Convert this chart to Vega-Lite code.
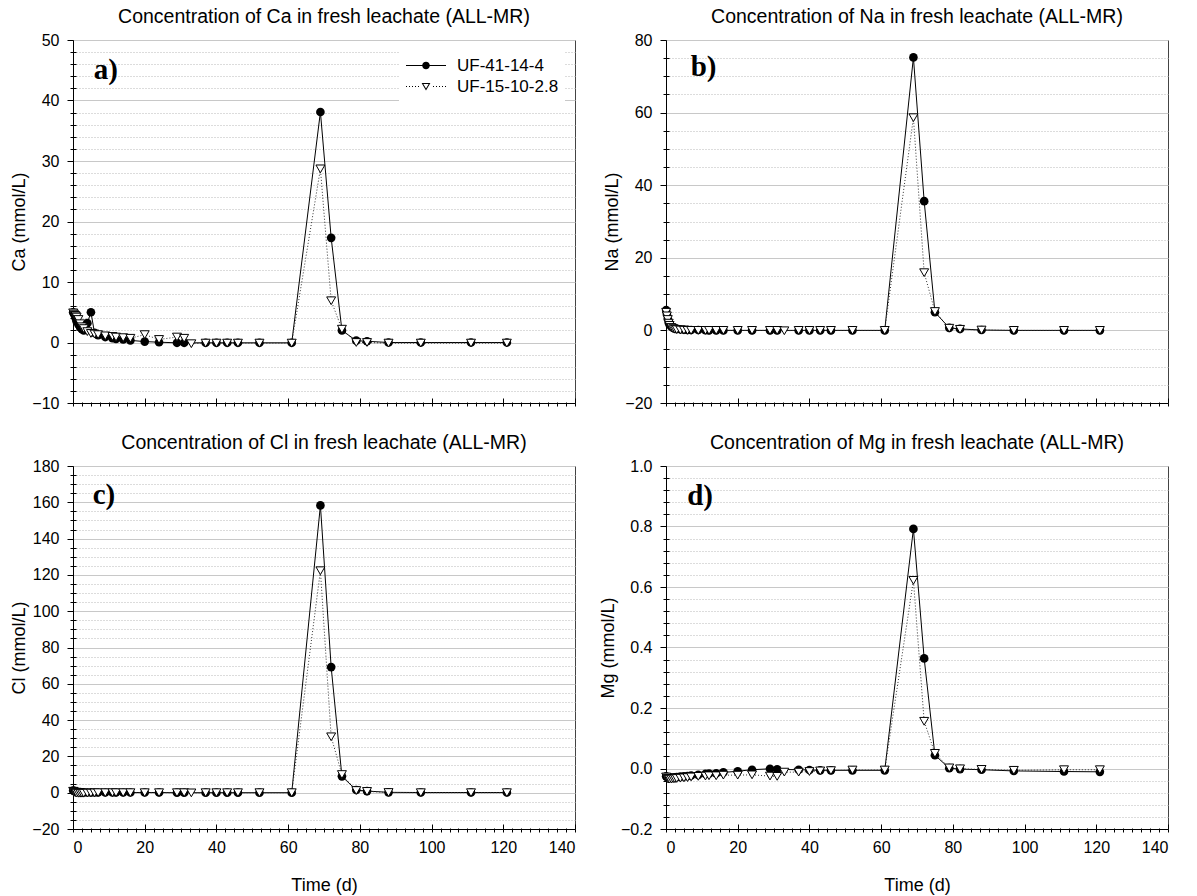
{
  "$schema": "https://vega.github.io/schema/vega-lite/v6.json",
  "padding": {"left": 10, "top": 6, "right": 5, "bottom": 2},
  "bounds": "flush",
  "columns": 2,
  "spacing": {"row": 63, "column": 91},
  "datasets": {
    "ca": [
      {"s":"UF-41-14-4","t":0.05,"v":5.0},{"s":"UF-41-14-4","t":0.25,"v":4.8},{"s":"UF-41-14-4","t":0.5,"v":4.5},{"s":"UF-41-14-4","t":0.75,"v":4.0},{"s":"UF-41-14-4","t":1,"v":3.5},{"s":"UF-41-14-4","t":1.5,"v":3.0},{"s":"UF-41-14-4","t":2,"v":2.5},{"s":"UF-41-14-4","t":2.5,"v":2.2},{"s":"UF-41-14-4","t":3,"v":2.0},{"s":"UF-41-14-4","t":4,"v":3.2},{"s":"UF-41-14-4","t":5,"v":5.0},{"s":"UF-41-14-4","t":6,"v":1.6},{"s":"UF-41-14-4","t":7,"v":1.2},{"s":"UF-41-14-4","t":9,"v":0.9},{"s":"UF-41-14-4","t":11,"v":0.7},{"s":"UF-41-14-4","t":12,"v":0.6},{"s":"UF-41-14-4","t":14,"v":0.5},{"s":"UF-41-14-4","t":16,"v":0.35},{"s":"UF-41-14-4","t":20,"v":0.15},{"s":"UF-41-14-4","t":24,"v":0.05},{"s":"UF-41-14-4","t":29,"v":-0.05},{"s":"UF-41-14-4","t":31,"v":-0.05},{"s":"UF-41-14-4","t":37,"v":-0.05},{"s":"UF-41-14-4","t":40,"v":-0.05},{"s":"UF-41-14-4","t":43,"v":-0.05},{"s":"UF-41-14-4","t":46,"v":-0.05},{"s":"UF-41-14-4","t":52,"v":-0.05},{"s":"UF-41-14-4","t":61,"v":-0.05},{"s":"UF-41-14-4","t":69,"v":38.1},{"s":"UF-41-14-4","t":72,"v":17.3},{"s":"UF-41-14-4","t":75,"v":2.0},{"s":"UF-41-14-4","t":79,"v":0.3},{"s":"UF-41-14-4","t":82,"v":0.2},{"s":"UF-41-14-4","t":88,"v":0.0},{"s":"UF-41-14-4","t":97,"v":0.0},{"s":"UF-41-14-4","t":111,"v":0.0},{"s":"UF-41-14-4","t":121,"v":0.0},
      {"s":"UF-15-10-2.8","t":0.05,"v":4.9},{"s":"UF-15-10-2.8","t":0.25,"v":4.7},{"s":"UF-15-10-2.8","t":0.5,"v":4.5},{"s":"UF-15-10-2.8","t":0.75,"v":4.4},{"s":"UF-15-10-2.8","t":1,"v":4.2},{"s":"UF-15-10-2.8","t":1.5,"v":3.8},{"s":"UF-15-10-2.8","t":2,"v":3.1},{"s":"UF-15-10-2.8","t":2.5,"v":2.6},{"s":"UF-15-10-2.8","t":3,"v":2.3},{"s":"UF-15-10-2.8","t":4,"v":1.8},{"s":"UF-15-10-2.8","t":5,"v":1.5},{"s":"UF-15-10-2.8","t":6,"v":1.4},{"s":"UF-15-10-2.8","t":7,"v":1.3},{"s":"UF-15-10-2.8","t":9,"v":1.1},{"s":"UF-15-10-2.8","t":11,"v":1.0},{"s":"UF-15-10-2.8","t":12,"v":0.9},{"s":"UF-15-10-2.8","t":14,"v":0.8},{"s":"UF-15-10-2.8","t":16,"v":0.7},{"s":"UF-15-10-2.8","t":20,"v":1.3},{"s":"UF-15-10-2.8","t":24,"v":0.5},{"s":"UF-15-10-2.8","t":29,"v":0.9},{"s":"UF-15-10-2.8","t":31,"v":0.7},{"s":"UF-15-10-2.8","t":33,"v":-0.2},{"s":"UF-15-10-2.8","t":37,"v":-0.1},{"s":"UF-15-10-2.8","t":40,"v":-0.1},{"s":"UF-15-10-2.8","t":43,"v":-0.1},{"s":"UF-15-10-2.8","t":46,"v":-0.1},{"s":"UF-15-10-2.8","t":52,"v":-0.1},{"s":"UF-15-10-2.8","t":61,"v":-0.1},{"s":"UF-15-10-2.8","t":69,"v":28.7},{"s":"UF-15-10-2.8","t":72,"v":6.9},{"s":"UF-15-10-2.8","t":75,"v":2.2},{"s":"UF-15-10-2.8","t":79,"v":0.0},{"s":"UF-15-10-2.8","t":82,"v":0.0},{"s":"UF-15-10-2.8","t":88,"v":-0.1},{"s":"UF-15-10-2.8","t":97,"v":-0.1},{"s":"UF-15-10-2.8","t":111,"v":-0.1},{"s":"UF-15-10-2.8","t":121,"v":-0.1}
    ],
    "na": [
      {"s":"UF-41-14-4","t":0.05,"v":5.6},{"s":"UF-41-14-4","t":0.25,"v":4.5},{"s":"UF-41-14-4","t":0.5,"v":3.2},{"s":"UF-41-14-4","t":0.75,"v":2.2},{"s":"UF-41-14-4","t":1,"v":1.6},{"s":"UF-41-14-4","t":1.5,"v":1.0},{"s":"UF-41-14-4","t":2,"v":0.7},{"s":"UF-41-14-4","t":2.5,"v":0.5},{"s":"UF-41-14-4","t":3,"v":0.4},{"s":"UF-41-14-4","t":4,"v":0.3},{"s":"UF-41-14-4","t":5,"v":0.2},{"s":"UF-41-14-4","t":6,"v":0.15},{"s":"UF-41-14-4","t":7,"v":0.1},{"s":"UF-41-14-4","t":9,"v":0.1},{"s":"UF-41-14-4","t":11,"v":0.05},{"s":"UF-41-14-4","t":12,"v":0},{"s":"UF-41-14-4","t":14,"v":0},{"s":"UF-41-14-4","t":16,"v":0},{"s":"UF-41-14-4","t":20,"v":0},{"s":"UF-41-14-4","t":24,"v":0},{"s":"UF-41-14-4","t":29,"v":0},{"s":"UF-41-14-4","t":31,"v":0},{"s":"UF-41-14-4","t":37,"v":0},{"s":"UF-41-14-4","t":40,"v":0},{"s":"UF-41-14-4","t":43,"v":0},{"s":"UF-41-14-4","t":46,"v":0},{"s":"UF-41-14-4","t":52,"v":0},{"s":"UF-41-14-4","t":61,"v":0},{"s":"UF-41-14-4","t":69,"v":75.2},{"s":"UF-41-14-4","t":72,"v":35.6},{"s":"UF-41-14-4","t":75,"v":5.0},{"s":"UF-41-14-4","t":79,"v":0.7},{"s":"UF-41-14-4","t":82,"v":0.4},{"s":"UF-41-14-4","t":88,"v":0.1},{"s":"UF-41-14-4","t":97,"v":0},{"s":"UF-41-14-4","t":111,"v":0},{"s":"UF-41-14-4","t":121,"v":0},
      {"s":"UF-15-10-2.8","t":0.05,"v":5.0},{"s":"UF-15-10-2.8","t":0.25,"v":4.0},{"s":"UF-15-10-2.8","t":0.5,"v":3.0},{"s":"UF-15-10-2.8","t":0.75,"v":2.0},{"s":"UF-15-10-2.8","t":1,"v":1.4},{"s":"UF-15-10-2.8","t":1.5,"v":0.8},{"s":"UF-15-10-2.8","t":2,"v":0.5},{"s":"UF-15-10-2.8","t":2.5,"v":0.3},{"s":"UF-15-10-2.8","t":3,"v":0.2},{"s":"UF-15-10-2.8","t":4,"v":0.1},{"s":"UF-15-10-2.8","t":5,"v":0.05},{"s":"UF-15-10-2.8","t":6,"v":0},{"s":"UF-15-10-2.8","t":7,"v":0},{"s":"UF-15-10-2.8","t":9,"v":0},{"s":"UF-15-10-2.8","t":11,"v":0},{"s":"UF-15-10-2.8","t":12,"v":0},{"s":"UF-15-10-2.8","t":14,"v":0},{"s":"UF-15-10-2.8","t":16,"v":0},{"s":"UF-15-10-2.8","t":20,"v":0},{"s":"UF-15-10-2.8","t":24,"v":0},{"s":"UF-15-10-2.8","t":29,"v":0},{"s":"UF-15-10-2.8","t":31,"v":0},{"s":"UF-15-10-2.8","t":33,"v":-0.1},{"s":"UF-15-10-2.8","t":37,"v":0},{"s":"UF-15-10-2.8","t":40,"v":0},{"s":"UF-15-10-2.8","t":43,"v":0},{"s":"UF-15-10-2.8","t":46,"v":0},{"s":"UF-15-10-2.8","t":52,"v":0},{"s":"UF-15-10-2.8","t":61,"v":0},{"s":"UF-15-10-2.8","t":69,"v":58.6},{"s":"UF-15-10-2.8","t":72,"v":15.9},{"s":"UF-15-10-2.8","t":75,"v":5.2},{"s":"UF-15-10-2.8","t":79,"v":0.6},{"s":"UF-15-10-2.8","t":82,"v":0.3},{"s":"UF-15-10-2.8","t":88,"v":0.1},{"s":"UF-15-10-2.8","t":97,"v":0},{"s":"UF-15-10-2.8","t":111,"v":0},{"s":"UF-15-10-2.8","t":121,"v":0}
    ],
    "cl": [
      {"s":"UF-41-14-4","t":0.05,"v":1.2},{"s":"UF-41-14-4","t":0.25,"v":1.0},{"s":"UF-41-14-4","t":0.5,"v":0.8},{"s":"UF-41-14-4","t":0.75,"v":0.6},{"s":"UF-41-14-4","t":1,"v":0.5},{"s":"UF-41-14-4","t":1.5,"v":0.4},{"s":"UF-41-14-4","t":2,"v":0.3},{"s":"UF-41-14-4","t":2.5,"v":0.2},{"s":"UF-41-14-4","t":3,"v":0.2},{"s":"UF-41-14-4","t":4,"v":0.1},{"s":"UF-41-14-4","t":5,"v":0.1},{"s":"UF-41-14-4","t":6,"v":0.1},{"s":"UF-41-14-4","t":7,"v":0.1},{"s":"UF-41-14-4","t":9,"v":0.1},{"s":"UF-41-14-4","t":11,"v":0.1},{"s":"UF-41-14-4","t":12,"v":0.1},{"s":"UF-41-14-4","t":14,"v":0.1},{"s":"UF-41-14-4","t":16,"v":0.1},{"s":"UF-41-14-4","t":20,"v":0.1},{"s":"UF-41-14-4","t":24,"v":0.1},{"s":"UF-41-14-4","t":29,"v":0},{"s":"UF-41-14-4","t":31,"v":0},{"s":"UF-41-14-4","t":37,"v":0},{"s":"UF-41-14-4","t":40,"v":0},{"s":"UF-41-14-4","t":43,"v":0},{"s":"UF-41-14-4","t":46,"v":0},{"s":"UF-41-14-4","t":52,"v":0},{"s":"UF-41-14-4","t":61,"v":0},{"s":"UF-41-14-4","t":69,"v":158.3},{"s":"UF-41-14-4","t":72,"v":69.2},{"s":"UF-41-14-4","t":75,"v":9.0},{"s":"UF-41-14-4","t":79,"v":1.5},{"s":"UF-41-14-4","t":82,"v":0.9},{"s":"UF-41-14-4","t":88,"v":0.2},{"s":"UF-41-14-4","t":97,"v":0.1},{"s":"UF-41-14-4","t":111,"v":0.1},{"s":"UF-41-14-4","t":121,"v":0.1},
      {"s":"UF-15-10-2.8","t":0.05,"v":0.8},{"s":"UF-15-10-2.8","t":0.25,"v":0.5},{"s":"UF-15-10-2.8","t":0.5,"v":0.2},{"s":"UF-15-10-2.8","t":0.75,"v":0},{"s":"UF-15-10-2.8","t":1,"v":-0.2},{"s":"UF-15-10-2.8","t":1.5,"v":-0.3},{"s":"UF-15-10-2.8","t":2,"v":-0.3},{"s":"UF-15-10-2.8","t":2.5,"v":-0.3},{"s":"UF-15-10-2.8","t":3,"v":-0.3},{"s":"UF-15-10-2.8","t":4,"v":-0.2},{"s":"UF-15-10-2.8","t":5,"v":-0.2},{"s":"UF-15-10-2.8","t":6,"v":-0.1},{"s":"UF-15-10-2.8","t":7,"v":0},{"s":"UF-15-10-2.8","t":9,"v":0},{"s":"UF-15-10-2.8","t":11,"v":0},{"s":"UF-15-10-2.8","t":12,"v":0},{"s":"UF-15-10-2.8","t":14,"v":0},{"s":"UF-15-10-2.8","t":16,"v":0},{"s":"UF-15-10-2.8","t":20,"v":0},{"s":"UF-15-10-2.8","t":24,"v":0},{"s":"UF-15-10-2.8","t":29,"v":0},{"s":"UF-15-10-2.8","t":31,"v":0},{"s":"UF-15-10-2.8","t":33,"v":-0.1},{"s":"UF-15-10-2.8","t":37,"v":0},{"s":"UF-15-10-2.8","t":40,"v":0},{"s":"UF-15-10-2.8","t":43,"v":0},{"s":"UF-15-10-2.8","t":46,"v":0},{"s":"UF-15-10-2.8","t":52,"v":0},{"s":"UF-15-10-2.8","t":61,"v":0},{"s":"UF-15-10-2.8","t":69,"v":122.3},{"s":"UF-15-10-2.8","t":72,"v":30.8},{"s":"UF-15-10-2.8","t":75,"v":10.0},{"s":"UF-15-10-2.8","t":79,"v":1.2},{"s":"UF-15-10-2.8","t":82,"v":0.7},{"s":"UF-15-10-2.8","t":88,"v":0.1},{"s":"UF-15-10-2.8","t":97,"v":0},{"s":"UF-15-10-2.8","t":111,"v":0},{"s":"UF-15-10-2.8","t":121,"v":0}
    ],
    "mg": [
      {"s":"UF-41-14-4","t":0.05,"v":-0.026},{"s":"UF-41-14-4","t":0.25,"v":-0.028},{"s":"UF-41-14-4","t":0.5,"v":-0.029},{"s":"UF-41-14-4","t":0.75,"v":-0.03},{"s":"UF-41-14-4","t":1,"v":-0.03},{"s":"UF-41-14-4","t":1.5,"v":-0.03},{"s":"UF-41-14-4","t":2,"v":-0.03},{"s":"UF-41-14-4","t":2.5,"v":-0.029},{"s":"UF-41-14-4","t":3,"v":-0.028},{"s":"UF-41-14-4","t":4,"v":-0.027},{"s":"UF-41-14-4","t":5,"v":-0.026},{"s":"UF-41-14-4","t":6,"v":-0.025},{"s":"UF-41-14-4","t":7,"v":-0.023},{"s":"UF-41-14-4","t":9,"v":-0.021},{"s":"UF-41-14-4","t":11,"v":-0.018},{"s":"UF-41-14-4","t":12,"v":-0.017},{"s":"UF-41-14-4","t":14,"v":-0.016},{"s":"UF-41-14-4","t":16,"v":-0.013},{"s":"UF-41-14-4","t":20,"v":-0.009},{"s":"UF-41-14-4","t":24,"v":-0.004},{"s":"UF-41-14-4","t":29,"v":-0.001},{"s":"UF-41-14-4","t":31,"v":-0.003},{"s":"UF-41-14-4","t":37,"v":-0.004},{"s":"UF-41-14-4","t":40,"v":-0.005},{"s":"UF-41-14-4","t":43,"v":-0.006},{"s":"UF-41-14-4","t":46,"v":-0.006},{"s":"UF-41-14-4","t":52,"v":-0.006},{"s":"UF-41-14-4","t":61,"v":-0.006},{"s":"UF-41-14-4","t":69,"v":0.792},{"s":"UF-41-14-4","t":72,"v":0.364},{"s":"UF-41-14-4","t":75,"v":0.044},{"s":"UF-41-14-4","t":79,"v":0.001},{"s":"UF-41-14-4","t":82,"v":-0.002},{"s":"UF-41-14-4","t":88,"v":-0.004},{"s":"UF-41-14-4","t":97,"v":-0.008},{"s":"UF-41-14-4","t":111,"v":-0.01},{"s":"UF-41-14-4","t":121,"v":-0.011},
      {"s":"UF-15-10-2.8","t":0.05,"v":-0.028},{"s":"UF-15-10-2.8","t":0.25,"v":-0.032},{"s":"UF-15-10-2.8","t":0.5,"v":-0.034},{"s":"UF-15-10-2.8","t":0.75,"v":-0.035},{"s":"UF-15-10-2.8","t":1,"v":-0.035},{"s":"UF-15-10-2.8","t":1.5,"v":-0.035},{"s":"UF-15-10-2.8","t":2,"v":-0.034},{"s":"UF-15-10-2.8","t":2.5,"v":-0.034},{"s":"UF-15-10-2.8","t":3,"v":-0.033},{"s":"UF-15-10-2.8","t":4,"v":-0.032},{"s":"UF-15-10-2.8","t":5,"v":-0.031},{"s":"UF-15-10-2.8","t":6,"v":-0.03},{"s":"UF-15-10-2.8","t":7,"v":-0.028},{"s":"UF-15-10-2.8","t":9,"v":-0.026},{"s":"UF-15-10-2.8","t":11,"v":-0.025},{"s":"UF-15-10-2.8","t":12,"v":-0.024},{"s":"UF-15-10-2.8","t":14,"v":-0.024},{"s":"UF-15-10-2.8","t":16,"v":-0.022},{"s":"UF-15-10-2.8","t":20,"v":-0.022},{"s":"UF-15-10-2.8","t":24,"v":-0.021},{"s":"UF-15-10-2.8","t":29,"v":-0.025},{"s":"UF-15-10-2.8","t":31,"v":-0.026},{"s":"UF-15-10-2.8","t":33,"v":-0.012},{"s":"UF-15-10-2.8","t":37,"v":-0.012},{"s":"UF-15-10-2.8","t":40,"v":-0.01},{"s":"UF-15-10-2.8","t":43,"v":-0.008},{"s":"UF-15-10-2.8","t":46,"v":-0.007},{"s":"UF-15-10-2.8","t":52,"v":-0.005},{"s":"UF-15-10-2.8","t":61,"v":-0.005},{"s":"UF-15-10-2.8","t":69,"v":0.622},{"s":"UF-15-10-2.8","t":72,"v":0.156},{"s":"UF-15-10-2.8","t":75,"v":0.05},{"s":"UF-15-10-2.8","t":79,"v":0.002},{"s":"UF-15-10-2.8","t":82,"v":-0.001},{"s":"UF-15-10-2.8","t":88,"v":-0.003},{"s":"UF-15-10-2.8","t":97,"v":-0.006},{"s":"UF-15-10-2.8","t":111,"v":-0.004},{"s":"UF-15-10-2.8","t":121,"v":-0.004}
    ]
  },
  "concat": [
    {
      "title": "Concentration of Ca in fresh leachate (ALL-MR)",
      "width": 502, "height": 363,
      "data": {"name": "ca"},
      "resolve": {"axis": {"x": "independent", "y": "independent"}},
      "layer": [
        {"transform": [{"filter": "datum.s === 'UF-41-14-4'"}],
         "mark": {"type": "line", "color": "black", "strokeWidth": 1},
         "encoding": {
           "x": {"field": "t", "type": "quantitative", "scale": {"domain": [0, 140], "nice": false}, "axis": {"orient": "bottom", "values": [0,20,40,60,80,100,120,140], "grid": false, "tickSize": 3, "labels": false, "title": null}},
           "y": {"field": "v", "type": "quantitative", "scale": {"domain": [-10, 50], "nice": false, "zero": false}, "axis": {"orient": "left", "values": [-10,0,10,20,30,40,50], "grid": true, "tickSize": 6, "title": "Ca (mmol/L)"}}
         }},
        {"transform": [{"filter": "datum.s === 'UF-15-10-2.8'"}],
         "mark": {"type": "line", "color": "#333", "strokeWidth": 1, "strokeDash": [1, 2]},
         "encoding": {
           "x": {"field": "t", "type": "quantitative", "axis": {"orient": "bottom", "values": [0,20,40,60,80,100,120,140], "grid": false, "tickSize": 5, "offset": -5, "labels": false, "domain": false, "title": null}},
           "y": {"field": "v", "type": "quantitative", "axis": {"orient": "left", "values": [-8,-6,-4,-2,2,4,6,8,12,14,16,18,22,24,26,28,32,34,36,38,42,44,46,48], "grid": true, "gridDash": [1, 2], "gridColor": "#b8b8b8", "ticks": false, "labels": false, "domain": false, "title": null}}
         }},
        {"transform": [{"filter": "datum.s === 'UF-41-14-4'"}],
         "mark": {"type": "point", "shape": "circle", "filled": true, "color": "black", "size": 75, "opacity": 1},
         "encoding": {
           "x": {"field": "t", "type": "quantitative", "axis": {"orient": "bottom", "values": [2.5,5,7.5,10,12.5,15,17.5,22.5,25,27.5,30,32.5,35,37.5,42.5,45,47.5,50,52.5,55,57.5,62.5,65,67.5,70,72.5,75,77.5,82.5,85,87.5,90,92.5,95,97.5,102.5,105,107.5,110,112.5,115,117.5,122.5,125,127.5,130,132.5,135,137.5], "grid": false, "tickSize": 4, "offset": -1, "labels": false, "domain": false, "title": null}},
           "y": {"field": "v", "type": "quantitative", "axis": {"orient": "left", "values": [-8,-6,-4,-2,2,4,6,8,12,14,16,18,22,24,26,28,32,34,36,38,42,44,46,48], "grid": false, "tickSize": 6, "offset": -3, "labels": false, "domain": false, "title": null}}
         }},
        {"transform": [{"filter": "datum.s === 'UF-15-10-2.8'"}],
         "mark": {"type": "point", "shape": "triangle-down", "fill": "white", "stroke": "black", "strokeWidth": 1, "size": 80, "opacity": 1},
         "encoding": {
           "x": {"field": "t", "type": "quantitative", "axis": null},
           "y": {"field": "v", "type": "quantitative", "axis": null}
         }},
        {"mark": {"type": "point", "opacity": 0, "filled": true, "color": "black", "size": 1600},
         "encoding": {
           "x": {"field": "t", "type": "quantitative", "axis": null},
           "y": {"field": "v", "type": "quantitative", "axis": null},
           "shape": {"field": "s", "type": "nominal", "scale": {"domain": ["UF-41-14-4", "UF-15-10-2.8"], "range": ["M-1,-0.025H1V0.025H-1ZM-0.19,0A0.19,0.19,0,1,1,0.19,0A0.19,0.19,0,1,1,-0.19,0Z", "M-1,-0.025h0.05v0.05h-0.05ZM-0.85,-0.025h0.05v0.05h-0.05ZM-0.7,-0.025h0.05v0.05h-0.05ZM-0.55,-0.025h0.05v0.05h-0.05ZM-0.4,-0.025h0.05v0.05h-0.05ZM0.35,-0.025h0.05v0.05h-0.05ZM0.5,-0.025h0.05v0.05h-0.05ZM0.65,-0.025h0.05v0.05h-0.05ZM0.8,-0.025h0.05v0.05h-0.05ZM0.95,-0.025h0.05v0.05h-0.05ZM-0.22,-0.18L0.22,-0.18L0,0.2ZM-0.133,-0.13L0,0.1L0.133,-0.13Z"]}, "legend": {"title": null, "orient": "none", "legendX": 326, "legendY": 9, "symbolSize": 1600}}
         }},
        {"data": {"values": [{"lab": "a)", "t": 5.8, "v": 45}]},
         "mark": {"type": "text", "font": "Liberation Serif", "fontWeight": "bold", "fontSize": 29, "align": "left", "baseline": "middle", "color": "black"},
         "encoding": {
           "x": {"field": "t", "type": "quantitative", "axis": null},
           "y": {"field": "v", "type": "quantitative", "axis": null},
           "text": {"field": "lab"}
         }}
      ]
    },
    {
      "title": "Concentration of Na in fresh leachate (ALL-MR)",
      "width": 502, "height": 363,
      "data": {"name": "na"},
      "resolve": {"axis": {"x": "independent", "y": "independent"}},
      "layer": [
        {"transform": [{"filter": "datum.s === 'UF-41-14-4'"}],
         "mark": {"type": "line", "color": "black", "strokeWidth": 1},
         "encoding": {
           "x": {"field": "t", "type": "quantitative", "scale": {"domain": [0, 140], "nice": false}, "axis": {"orient": "bottom", "values": [0,20,40,60,80,100,120,140], "grid": false, "tickSize": 3, "labels": false, "title": null}},
           "y": {"field": "v", "type": "quantitative", "scale": {"domain": [-20, 80], "nice": false, "zero": false}, "axis": {"orient": "left", "values": [-20,0,20,40,60,80], "grid": true, "tickSize": 6, "title": "Na (mmol/L)"}}
         }},
        {"transform": [{"filter": "datum.s === 'UF-15-10-2.8'"}],
         "mark": {"type": "line", "color": "#333", "strokeWidth": 1, "strokeDash": [1, 2]},
         "encoding": {
           "x": {"field": "t", "type": "quantitative", "axis": {"orient": "bottom", "values": [0,20,40,60,80,100,120,140], "grid": false, "tickSize": 5, "offset": -5, "labels": false, "domain": false, "title": null}},
           "y": {"field": "v", "type": "quantitative", "axis": {"orient": "left", "values": [-15,-10,-5,5,10,15,25,30,35,45,50,55,65,70,75], "grid": true, "gridDash": [1, 2], "gridColor": "#b8b8b8", "ticks": false, "labels": false, "domain": false, "title": null}}
         }},
        {"transform": [{"filter": "datum.s === 'UF-41-14-4'"}],
         "mark": {"type": "point", "shape": "circle", "filled": true, "color": "black", "size": 75, "opacity": 1},
         "encoding": {
           "x": {"field": "t", "type": "quantitative", "axis": {"orient": "bottom", "values": [2.5,5,7.5,10,12.5,15,17.5,22.5,25,27.5,30,32.5,35,37.5,42.5,45,47.5,50,52.5,55,57.5,62.5,65,67.5,70,72.5,75,77.5,82.5,85,87.5,90,92.5,95,97.5,102.5,105,107.5,110,112.5,115,117.5,122.5,125,127.5,130,132.5,135,137.5], "grid": false, "tickSize": 4, "offset": -1, "labels": false, "domain": false, "title": null}},
           "y": {"field": "v", "type": "quantitative", "axis": {"orient": "left", "values": [-15,-10,-5,5,10,15,25,30,35,45,50,55,65,70,75], "grid": false, "tickSize": 6, "offset": -3, "labels": false, "domain": false, "title": null}}
         }},
        {"transform": [{"filter": "datum.s === 'UF-15-10-2.8'"}],
         "mark": {"type": "point", "shape": "triangle-down", "fill": "white", "stroke": "black", "strokeWidth": 1, "size": 80, "opacity": 1},
         "encoding": {
           "x": {"field": "t", "type": "quantitative", "axis": null},
           "y": {"field": "v", "type": "quantitative", "axis": null}
         }},
        {"data": {"values": [{"lab": "b)", "t": 6.9, "v": 72.5}]},
         "mark": {"type": "text", "font": "Liberation Serif", "fontWeight": "bold", "fontSize": 29, "align": "left", "baseline": "middle", "color": "black"},
         "encoding": {
           "x": {"field": "t", "type": "quantitative", "axis": null},
           "y": {"field": "v", "type": "quantitative", "axis": null},
           "text": {"field": "lab"}
         }}
      ]
    },
    {
      "title": "Concentration of Cl in fresh leachate (ALL-MR)",
      "width": 502, "height": 363,
      "data": {"name": "cl"},
      "resolve": {"axis": {"x": "independent", "y": "independent"}},
      "layer": [
        {"transform": [{"filter": "datum.s === 'UF-41-14-4'"}],
         "mark": {"type": "line", "color": "black", "strokeWidth": 1},
         "encoding": {
           "x": {"field": "t", "type": "quantitative", "scale": {"domain": [0, 140], "nice": false}, "axis": {"orient": "bottom", "values": [0,20,40,60,80,100,120,140], "grid": false, "tickSize": 3, "labels": true, "title": "Time (d)"}},
           "y": {"field": "v", "type": "quantitative", "scale": {"domain": [-20, 180], "nice": false, "zero": false}, "axis": {"orient": "left", "values": [-20,0,20,40,60,80,100,120,140,160,180], "grid": true, "tickSize": 6, "title": "Cl (mmol/L)"}}
         }},
        {"transform": [{"filter": "datum.s === 'UF-15-10-2.8'"}],
         "mark": {"type": "line", "color": "#333", "strokeWidth": 1, "strokeDash": [1, 2]},
         "encoding": {
           "x": {"field": "t", "type": "quantitative", "axis": {"orient": "bottom", "values": [0,20,40,60,80,100,120,140], "grid": false, "tickSize": 5, "offset": -5, "labels": false, "domain": false, "title": null}},
           "y": {"field": "v", "type": "quantitative", "axis": {"orient": "left", "values": [-15,-10,-5,5,10,15,25,30,35,45,50,55,65,70,75,85,90,95,105,110,115,125,130,135,145,150,155,165,170,175], "grid": true, "gridDash": [1, 2], "gridColor": "#b8b8b8", "ticks": false, "labels": false, "domain": false, "title": null}}
         }},
        {"transform": [{"filter": "datum.s === 'UF-41-14-4'"}],
         "mark": {"type": "point", "shape": "circle", "filled": true, "color": "black", "size": 75, "opacity": 1},
         "encoding": {
           "x": {"field": "t", "type": "quantitative", "axis": {"orient": "bottom", "values": [2.5,5,7.5,10,12.5,15,17.5,22.5,25,27.5,30,32.5,35,37.5,42.5,45,47.5,50,52.5,55,57.5,62.5,65,67.5,70,72.5,75,77.5,82.5,85,87.5,90,92.5,95,97.5,102.5,105,107.5,110,112.5,115,117.5,122.5,125,127.5,130,132.5,135,137.5], "grid": false, "tickSize": 4, "offset": -1, "labels": false, "domain": false, "title": null}},
           "y": {"field": "v", "type": "quantitative", "axis": {"orient": "left", "values": [-15,-10,-5,5,10,15,25,30,35,45,50,55,65,70,75,85,90,95,105,110,115,125,130,135,145,150,155,165,170,175], "grid": false, "tickSize": 6, "offset": -3, "labels": false, "domain": false, "title": null}}
         }},
        {"transform": [{"filter": "datum.s === 'UF-15-10-2.8'"}],
         "mark": {"type": "point", "shape": "triangle-down", "fill": "white", "stroke": "black", "strokeWidth": 1, "size": 80, "opacity": 1},
         "encoding": {
           "x": {"field": "t", "type": "quantitative", "axis": null},
           "y": {"field": "v", "type": "quantitative", "axis": null}
         }},
        {"data": {"values": [{"lab": "c)", "t": 5.5, "v": 164}]},
         "mark": {"type": "text", "font": "Liberation Serif", "fontWeight": "bold", "fontSize": 29, "align": "left", "baseline": "middle", "color": "black"},
         "encoding": {
           "x": {"field": "t", "type": "quantitative", "axis": null},
           "y": {"field": "v", "type": "quantitative", "axis": null},
           "text": {"field": "lab"}
         }}
      ]
    },
    {
      "title": "Concentration of Mg in fresh leachate (ALL-MR)",
      "width": 502, "height": 363,
      "data": {"name": "mg"},
      "resolve": {"axis": {"x": "independent", "y": "independent"}},
      "layer": [
        {"transform": [{"filter": "datum.s === 'UF-41-14-4'"}],
         "mark": {"type": "line", "color": "black", "strokeWidth": 1},
         "encoding": {
           "x": {"field": "t", "type": "quantitative", "scale": {"domain": [0, 140], "nice": false}, "axis": {"orient": "bottom", "values": [0,20,40,60,80,100,120,140], "grid": false, "tickSize": 3, "labels": true, "title": "Time (d)"}},
           "y": {"field": "v", "type": "quantitative", "scale": {"domain": [-0.2, 1.0], "nice": false, "zero": false}, "axis": {"orient": "left", "values": [-0.2,0,0.2,0.4,0.6,0.8,1.0], "format": ".1f", "grid": true, "tickSize": 6, "title": "Mg (mmol/L)"}}
         }},
        {"transform": [{"filter": "datum.s === 'UF-15-10-2.8'"}],
         "mark": {"type": "line", "color": "#333", "strokeWidth": 1, "strokeDash": [1, 2]},
         "encoding": {
           "x": {"field": "t", "type": "quantitative", "axis": {"orient": "bottom", "values": [0,20,40,60,80,100,120,140], "grid": false, "tickSize": 5, "offset": -5, "labels": false, "domain": false, "title": null}},
           "y": {"field": "v", "type": "quantitative", "axis": {"orient": "left", "values": [-0.16,-0.12,-0.08,-0.04,0.04,0.08,0.12,0.16,0.24,0.28,0.32,0.36,0.44,0.48,0.52,0.56,0.64,0.68,0.72,0.76,0.84,0.88,0.92,0.96], "grid": true, "gridDash": [1, 2], "gridColor": "#b8b8b8", "ticks": false, "labels": false, "domain": false, "title": null}}
         }},
        {"transform": [{"filter": "datum.s === 'UF-41-14-4'"}],
         "mark": {"type": "point", "shape": "circle", "filled": true, "color": "black", "size": 75, "opacity": 1},
         "encoding": {
           "x": {"field": "t", "type": "quantitative", "axis": {"orient": "bottom", "values": [2.5,5,7.5,10,12.5,15,17.5,22.5,25,27.5,30,32.5,35,37.5,42.5,45,47.5,50,52.5,55,57.5,62.5,65,67.5,70,72.5,75,77.5,82.5,85,87.5,90,92.5,95,97.5,102.5,105,107.5,110,112.5,115,117.5,122.5,125,127.5,130,132.5,135,137.5], "grid": false, "tickSize": 4, "offset": -1, "labels": false, "domain": false, "title": null}},
           "y": {"field": "v", "type": "quantitative", "axis": {"orient": "left", "values": [-0.16,-0.12,-0.08,-0.04,0.04,0.08,0.12,0.16,0.24,0.28,0.32,0.36,0.44,0.48,0.52,0.56,0.64,0.68,0.72,0.76,0.84,0.88,0.92,0.96], "grid": false, "tickSize": 6, "offset": -3, "labels": false, "domain": false, "title": null}}
         }},
        {"transform": [{"filter": "datum.s === 'UF-15-10-2.8'"}],
         "mark": {"type": "point", "shape": "triangle-down", "fill": "white", "stroke": "black", "strokeWidth": 1, "size": 80, "opacity": 1},
         "encoding": {
           "x": {"field": "t", "type": "quantitative", "axis": null},
           "y": {"field": "v", "type": "quantitative", "axis": null}
         }},
        {"data": {"values": [{"lab": "d)", "t": 5.9, "v": 0.9}]},
         "mark": {"type": "text", "font": "Liberation Serif", "fontWeight": "bold", "fontSize": 29, "align": "left", "baseline": "middle", "color": "black"},
         "encoding": {
           "x": {"field": "t", "type": "quantitative", "axis": null},
           "y": {"field": "v", "type": "quantitative", "axis": null},
           "text": {"field": "lab"}
         }}
      ]
    }
  ],
  "config": {
    "view": {"stroke": "#444", "strokeWidth": 1},
    "title": {"font": "Liberation Sans", "fontSize": 19.5, "fontWeight": "normal", "color": "black", "offset": 5, "anchor": "middle"},
    "axis": {"labelFont": "Liberation Sans", "titleFont": "Liberation Sans", "labelFontSize": 16, "titleFontSize": 18, "titleFontWeight": "normal", "labelColor": "black", "titleColor": "black", "tickColor": "black", "domainColor": "black", "gridColor": "#c8c8c8", "gridWidth": 1, "labelPadding": 8, "titlePadding": 3},
    "axisX": {"titlePadding": 21, "labelPadding": 7},
    "legend": {"labelFont": "Liberation Sans", "labelFontSize": 17, "labelColor": "black", "symbolSize": 1600, "clipHeight": 21, "rowPadding": 0, "labelOffset": 10, "fillColor": "white", "padding": 6, "symbolOpacity": 1}
  }
}
